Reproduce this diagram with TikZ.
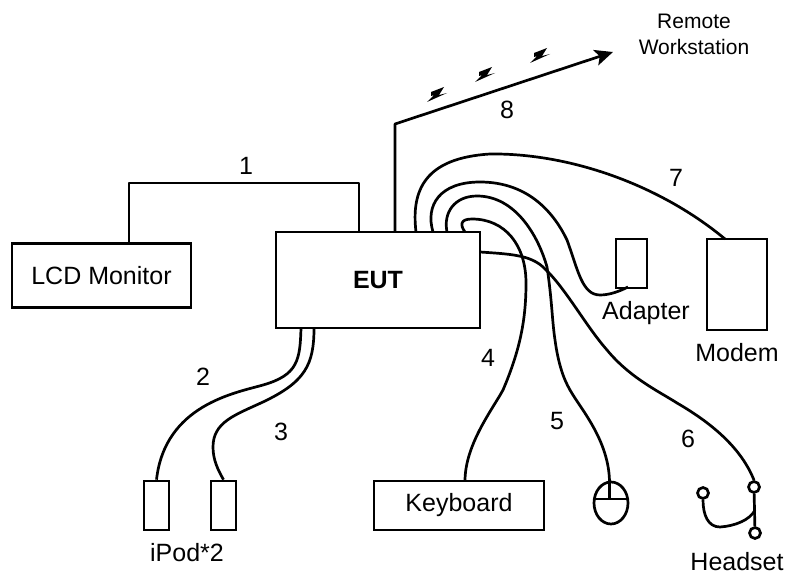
\documentclass[tikz,border=0pt]{standalone}
\usepackage{fontspec}
\usepackage{tikz}
\setmainfont{Liberation Sans}
\usetikzlibrary{arrows.meta,positioning,shapes.geometric,calc}
\tikzset{
  unitbox/.style={draw,line width=2.7pt,inner sep=0pt,font=\fontsize{25}{30}\selectfont},
  cable/.style={line width=2.7pt,line join=round},
  jack/.style={draw,circle,line width=2.7pt,minimum size=11pt,inner sep=0pt},
  caption/.style={font=\fontsize{25}{30}\selectfont,inner sep=0pt},
}
\begin{document}
\begin{tikzpicture}[x=1pt,y=-1pt]
  \useasboundingbox (0,0) rectangle (786,575);
  % units
  \node[unitbox,minimum width=179pt,minimum height=64pt] (lcd) at (101.5,275.5) {LCD Monitor};
  \node[unitbox,minimum width=204pt,minimum height=96pt,font=\fontsize{25}{30}\selectfont\bfseries] (eut) at (378,280) {EUT};
  \node[unitbox,minimum width=170pt,minimum height=49pt] (keyboard) at (459,505.5) {Keyboard};
  \node[unitbox,minimum width=25pt,minimum height=49pt] (ipodA) at (156.5,505.5) {};
  \node[unitbox,minimum width=25pt,minimum height=49pt] (ipodB) at (223.5,505.5) {};
  \node[unitbox,minimum width=31pt,minimum height=49pt] (adapter) at (631.5,263.5) {};
  \node[unitbox,minimum width=60pt,minimum height=91pt] (modem) at (737,284.5) {};
  \node[draw,ellipse,line width=2.7pt,minimum width=34pt,minimum height=42pt,inner sep=0pt] (mouse) at (611,503) {};
  \node[jack] (earL) at (703,493) {};
  \node[jack] (earR) at (754,487) {};
  \node[jack] (mic) at (755,533) {};
  % ports on the boxes
  \coordinate (lcdTop) at (129,244);
  \coordinate (eutA) at (359,232);
  \coordinate (eutB) at (301,328);
  \coordinate (eutC) at (314,328);
  \coordinate (eutD) at (465,232);
  \coordinate (eutE) at (447,232);
  \coordinate (eutF) at (480,252);
  \coordinate (eutG) at (433,232);
  \coordinate (eutH) at (416,232);
  \coordinate (eutI) at (395,232);
  \coordinate (keyTop) at (465,481);
  \coordinate (mouseTop) at (609.5,482);
  \coordinate (mouseMid) at (609.5,499);
  \coordinate (mouseL) at (594,499);
  \coordinate (mouseR) at (628,499);
  \coordinate (adapterEnd) at (628,287);
  \coordinate (modemTop) at (725,239);
  \coordinate (far) at (613,52);
  % 1
  \draw[cable] (lcdTop) -- (129,183) -- (359,183) -- (eutA);
  % 2 and 3
  \draw[cable] (eutB) .. controls (300,360) and (298,375) .. (263,385) .. controls (235,393) and (165,405) .. (ipodA.north);
  \draw[cable] (eutC) .. controls (314,365) and (305,382) .. (263,402) .. controls (235,415) and (213,422) .. (213,447) .. controls (213,460) and (218,470) .. (ipodB.north);
  % 4 to 7
  \draw[cable] (eutD) .. controls (460,225) and (460,219) .. (472,219) .. controls (505,219) and (526,245) .. (526,283) .. controls (526,320) and (520,350) .. (503,390) .. controls (492,410) and (465,445) .. (keyTop);
  \draw[cable] (eutE) .. controls (443,212) and (455,196) .. (477,196) .. controls (515,196) and (538,235) .. (547,267) .. controls (552,300) and (552,320) .. (555,340) .. controls (558,362) and (563,378) .. (570,390) .. controls (580,408) and (609,440) .. (mouseTop);
  \draw[cable] (eutF) .. controls (510,254) and (530,255) .. (543,267) .. controls (565,287) and (585,325) .. (607,350) .. controls (630,378) and (660,392) .. (677,403) .. controls (715,425) and (742,450) .. (earR.north);
  \draw[cable] (eutG) .. controls (425,205) and (440,182) .. (480,182) .. controls (530,182) and (555,215) .. (567,240) .. controls (578,270) and (582,295) .. (600,295) .. controls (610,295) and (620,291) .. (adapterEnd);
  \draw[cable] (eutH) .. controls (411,190) and (425,158) .. (490,154) .. controls (570,153) and (660,185) .. (modemTop);
  % 8
  \draw[cable,-{Stealth[length=18pt,width=16pt,inset=4pt]}] (eutI) -- (395,124) -- (far);
  \foreach \zx/\zy in {435/95,483/75,538/56} {
    \fill (\zx,\zy) ++(-4,-3) -- ++(13,-5) -- ++(-5,8) -- ++(8,-2) -- ++(-20,9) -- ++(7,-7) -- ++(-3,1) -- cycle;
  }
  % mouse and headset
  \draw[cable] (mouseL) -- (mouseR);
  \draw[cable] (mouseTop) -- (mouseMid);
  \draw[cable] (earR) -- (mic);
  \draw[cable] (earL.south) .. controls (703,515) and (708,527) .. (720,527) .. controls (735,526) and (750,520) .. (755,510);
  % labels
  \foreach \lx/\ly/\lab in {246/166/1,203/377/2,281/432/3,488/358/4,557/421/5,688/439/6,676/178/7,507/110/8} {
    \node[caption] at (\lx,\ly) {\lab};
  }
  \node[caption] (ipodname) at (187,553) {iPod*2};
  \node[caption] (adaptername) at (646,313) {Adapter};
  \node[caption] (modemname) at (737,353) {Modem};
  \node[caption] (headsetname) at (737,562) {Headset};
  \node[font=\fontsize{21}{26}\selectfont,align=center,inner sep=0pt] (remote) at (694,34) {Remote\\Workstation};
\end{tikzpicture}
\end{document}
